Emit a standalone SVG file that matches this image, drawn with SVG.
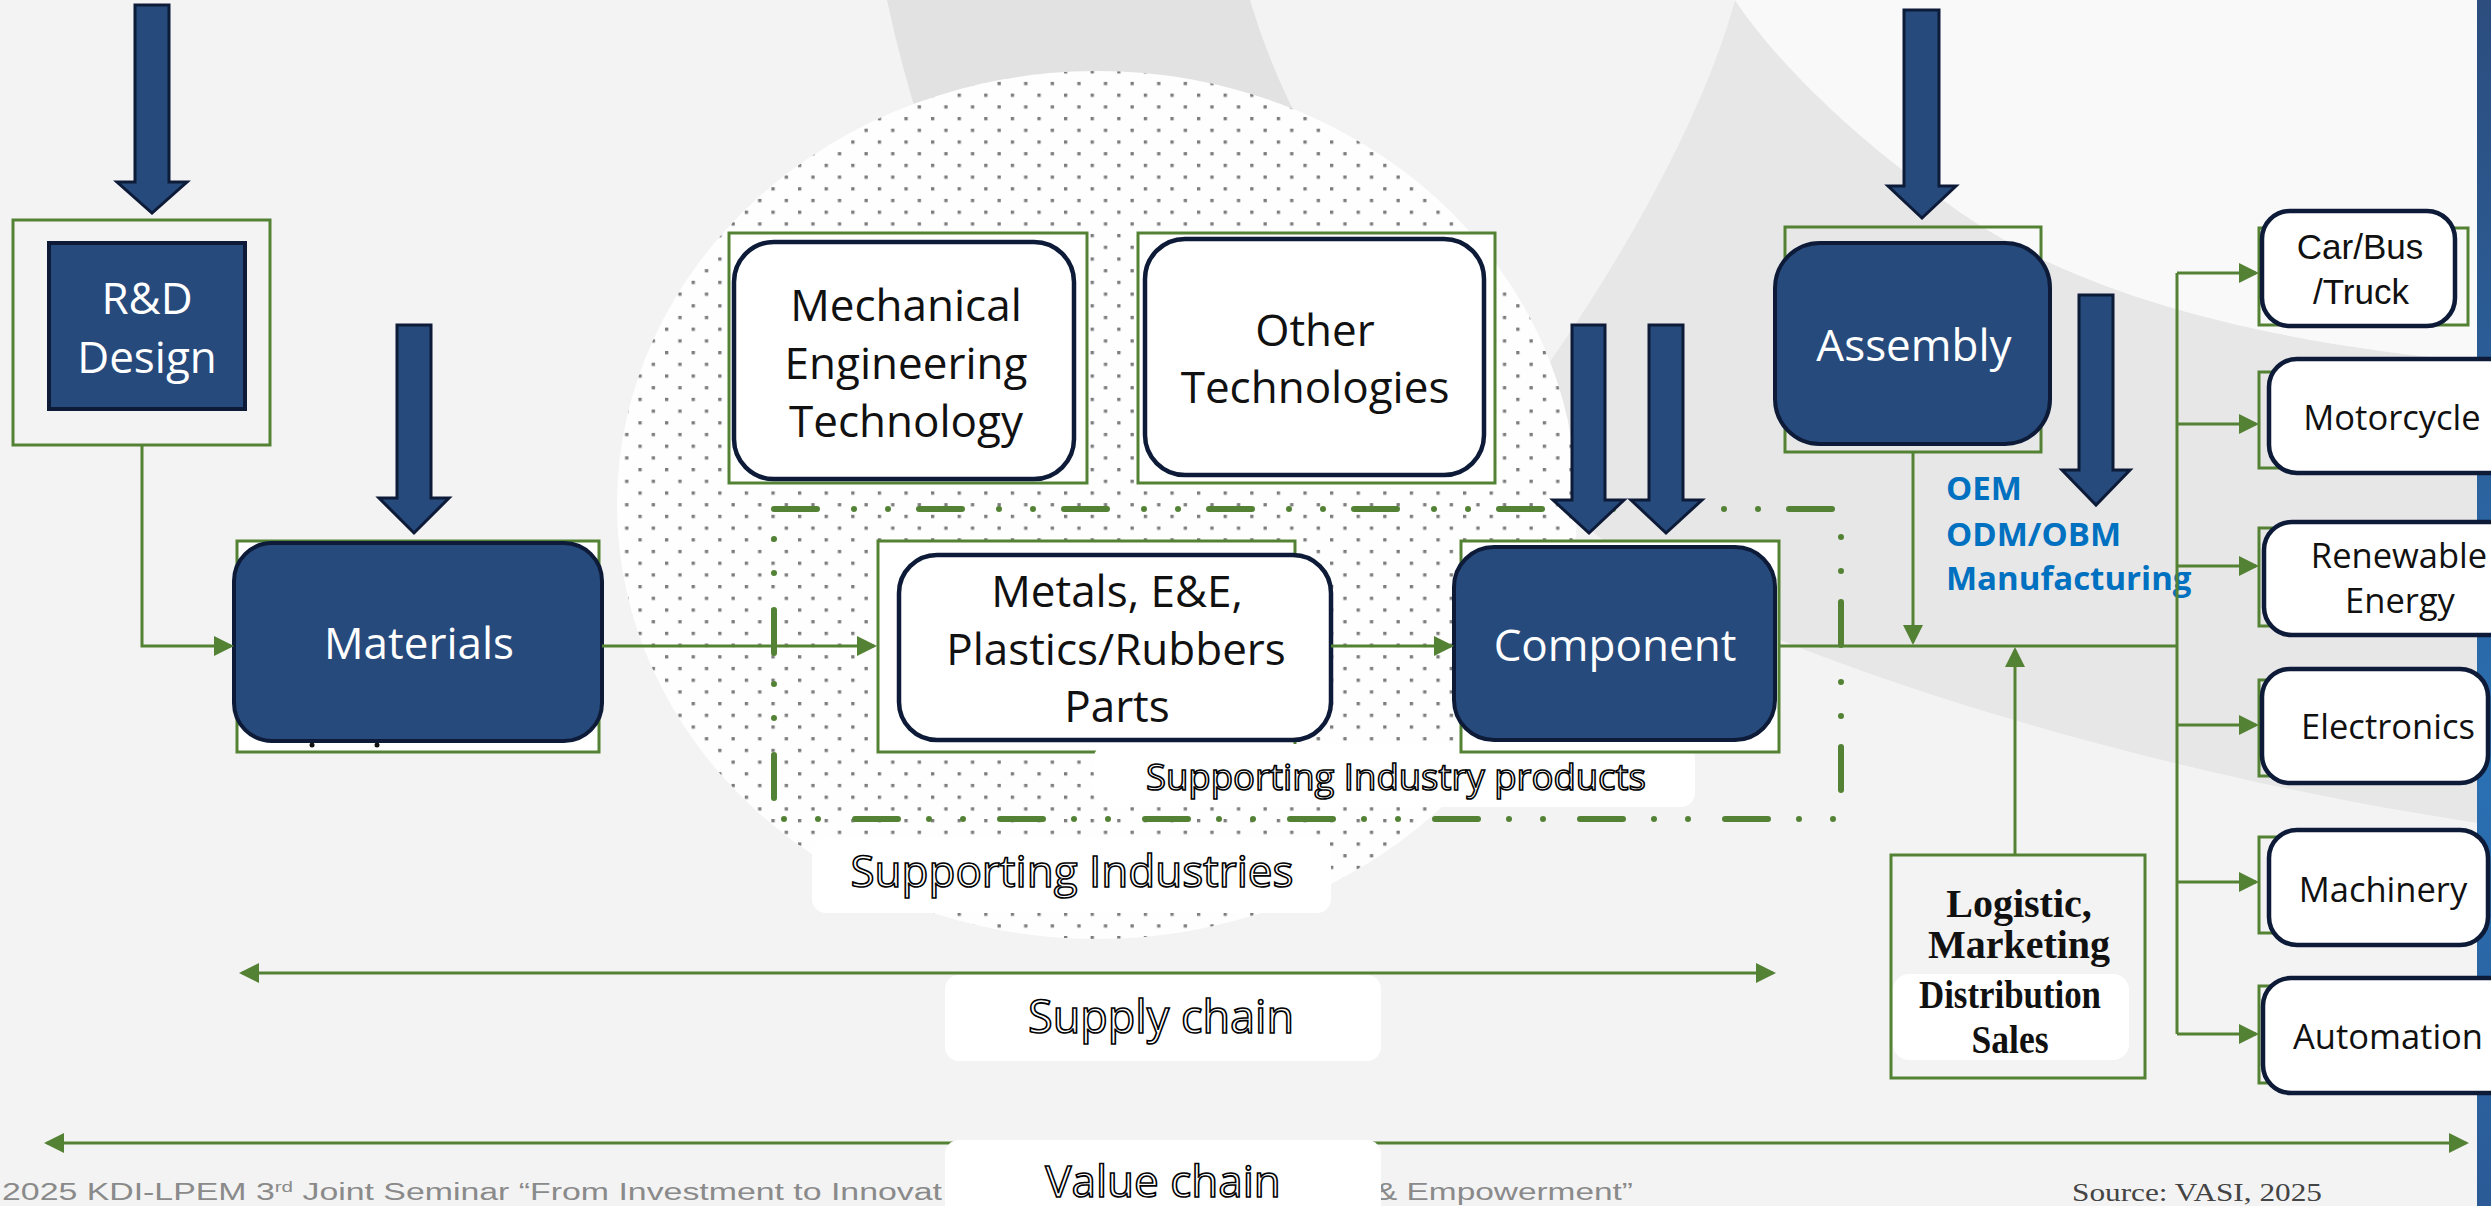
<svg xmlns="http://www.w3.org/2000/svg" width="2491" height="1206" viewBox="0 0 2491 1206">
<defs>
<style>
.nb{fill:#264a7c;stroke:#0d1b38;stroke-width:4}
.wb{fill:#fff;stroke:#0d1b38;stroke-width:4.5}
.gf{fill:#fff;stroke:#548235;stroke-width:3}
.gfn{fill:none;stroke:#548235;stroke-width:3}
.ar{fill:#264a7c;stroke:#0d1b38;stroke-width:3}
.ln{fill:none;stroke:#548235;stroke-width:3}
.lb{fill:#fff}
.tn{font-family:'Open Sans','Noto Sans',sans-serif;font-size:44px;fill:#fff;text-anchor:middle}
.tw{font-family:'Open Sans','Noto Sans',sans-serif;font-size:44px;fill:#111;text-anchor:middle}
.tr{font-family:'Open Sans','Noto Sans',sans-serif;font-size:34.5px;fill:#111;text-anchor:middle}
.ta{font-family:'Liberation Sans',Arial,sans-serif;font-size:35px;fill:#111;text-anchor:middle}
.to{font-family:'Open Sans','Noto Sans',sans-serif;fill:#fff;stroke:#000;stroke-width:1.6;text-anchor:middle}
.oem{font-family:'Open Sans','Noto Sans',sans-serif;font-size:33px;font-weight:bold;fill:#0070c0}
.tl{font-family:'Liberation Serif','Times New Roman',serif;font-size:40px;font-weight:bold;fill:#111;text-anchor:middle}
.ft{font-family:'Liberation Sans',Arial,sans-serif;font-size:23px;fill:#8a8a8a}
</style>
<marker id="ah" viewBox="0 0 20 20" refX="17" refY="10" markerWidth="20" markerHeight="20" markerUnits="userSpaceOnUse" orient="auto-start-reverse"><path d="M0,0L20,10L0,20Z" fill="#548235"/></marker>
<pattern id="dots" width="26.6" height="23.4" patternUnits="userSpaceOnUse"><rect width="26.6" height="23.4" fill="#fefefe"/><rect x="0" y="0" width="3.3" height="3.3" fill="#7c7c7c"/><rect x="13.3" y="11.7" width="3.3" height="3.3" fill="#7c7c7c"/></pattern>
<linearGradient id="bar" x1="0" y1="0" x2="0" y2="1"><stop offset="0" stop-color="#2c4d7e"/><stop offset="0.65" stop-color="#2a70b3"/><stop offset="1" stop-color="#2b5a96"/></linearGradient>
</defs>

<g id="background">
<rect width="2491" height="1206" fill="#f3f3f3"/>
<path d="M887,0 L1250,0 C1280,100 1330,190 1400,260 L1000,330 C950,220 910,110 887,0Z" fill="#e2e2e2"/>
<path d="M1735,0 C1775,60 1850,135 1950,205 C2080,300 2280,345 2491,363 L2491,825 C2250,790 1980,720 1780,640 C1650,585 1560,520 1500,430 C1600,300 1700,130 1735,0Z" fill="#e7e7e7"/>
<path d="M1735,0 L2491,0 L2491,363 C2280,345 2080,300 1950,205 C1850,135 1775,60 1735,0Z" fill="#f9f9f9"/>
<rect x="2477" y="0" width="14" height="1206" fill="url(#bar)"/>
<ellipse cx="1097" cy="505" rx="480" ry="434" fill="url(#dots)"/>
</g>

<g id="supporting-industry-group">
<rect x="774" y="509" width="1067" height="310" fill="none" stroke="#548235" stroke-width="6" stroke-linecap="round" stroke-dasharray="43 37 0 34 0 31"/>
</g>

<g id="rd-design">
<rect class="gfn" x="13" y="220" width="257" height="225"/>
<rect class="nb" x="49" y="243" width="196" height="166"/>
<text class="tn" x="147" y="314">R&amp;D</text>
<text class="tn" x="147" y="373">Design</text>
</g>

<g id="materials">
<rect class="gf" x="237" y="541" width="362" height="211"/>
<rect class="nb" x="234" y="543" width="368" height="198" rx="38"/>
<text class="tn" x="419" y="659">Materials</text>
<circle cx="312" cy="745" r="2.5" fill="#111"/>
<circle cx="377" cy="745" r="2.5" fill="#111"/>
</g>

<g id="mechanical-engineering">
<rect class="gf" x="729" y="233" width="358" height="250"/>
<rect class="wb" x="734" y="242" width="340" height="237" rx="40"/>
<text class="tw" x="906" y="321">Mechanical</text>
<text class="tw" x="906" y="379">Engineering</text>
<text class="tw" x="906" y="437">Technology</text>
</g>

<g id="other-technologies">
<rect class="gf" x="1138" y="233" width="357" height="250"/>
<rect class="wb" x="1145" y="239" width="339" height="236" rx="40"/>
<text class="tw" x="1315" y="346">Other</text>
<text class="tw" x="1315" y="403">Technologies</text>
</g>

<g id="metals-parts">
<rect class="gf" x="878" y="541" width="417" height="211"/>
<rect class="wb" x="899" y="555" width="432" height="185" rx="38"/>
<text class="tw" x="1117" y="607">Metals, E&amp;E,</text>
<text class="tw" x="1116" y="665">Plastics/Rubbers</text>
<text class="tw" x="1117" y="722">Parts</text>
</g>

<g id="label-supporting-industry-products">
<rect class="lb" x="1094" y="744" width="601" height="63" rx="14"/>
<text class="to" x="1396" y="790" font-size="36.5">Supporting Industry products</text>
</g>

<g id="component">
<rect class="gf" x="1461" y="541" width="318" height="211"/>
<rect class="nb" x="1454" y="547" width="321" height="193" rx="40"/>
<text class="tn" x="1615" y="661">Component</text>
</g>

<g id="assembly">
<rect class="gfn" x="1785" y="227" width="256" height="225"/>
<rect class="nb" x="1775" y="243" width="275" height="201" rx="45"/>
<text class="tn" x="1914" y="361">Assembly</text>
</g>

<g id="oem-label">
<text class="oem" x="1946" y="500">OEM</text>
<text class="oem" x="1946" y="546">ODM/OBM</text>
<text class="oem" x="1946" y="590">Manufacturing</text>
</g>

<g id="logistic">
<rect class="gfn" x="1891" y="855" width="254" height="223"/>
<text class="tl" x="2019" y="917">Logistic,</text>
<text class="tl" x="2019" y="958">Marketing</text>
<rect class="lb" x="1893" y="974" width="236" height="86" rx="16"/>
<text class="tl" x="2010" y="1008" textLength="182" lengthAdjust="spacingAndGlyphs">Distribution</text>
<text class="tl" x="2010" y="1053" textLength="77" lengthAdjust="spacingAndGlyphs">Sales</text>
</g>

<g id="car-bus-truck">
<rect class="gfn" x="2259" y="228" width="209" height="97"/>
<rect class="wb" x="2262" y="211" width="193" height="115" rx="28"/>
<text class="ta" x="2360" y="259">Car/Bus</text>
<text class="ta" x="2361" y="304">/Truck</text>
</g>

<g id="motorcycle">
<rect class="gfn" x="2259" y="372" width="120" height="96"/>
<rect class="wb" x="2269" y="359" width="260" height="114" rx="28"/>
<text class="tr" x="2392" y="430">Motorcycle</text>
</g>

<g id="renewable-energy">
<rect class="gfn" x="2259" y="528" width="120" height="98"/>
<rect class="wb" x="2264" y="522" width="265" height="113" rx="28"/>
<text class="tr" x="2399" y="568">Renewable</text>
<text class="tr" x="2400" y="613">Energy</text>
</g>

<g id="electronics">
<rect class="gfn" x="2259" y="680" width="120" height="96"/>
<rect class="wb" x="2262" y="669" width="226" height="114" rx="28"/>
<text class="tr" x="2388" y="739">Electronics</text>
</g>

<g id="machinery">
<rect class="gfn" x="2259" y="837" width="120" height="96"/>
<rect class="wb" x="2269" y="830" width="219" height="115" rx="28"/>
<text class="tr" x="2383" y="902">Machinery</text>
</g>

<g id="automation">
<rect class="gfn" x="2259" y="986" width="120" height="97"/>
<rect class="wb" x="2263" y="978" width="266" height="115" rx="28"/>
<text class="tr" x="2388" y="1049">Automation</text>
</g>

<g id="connectors">
<path class="ln" d="M142,445 V646 H231" marker-end="url(#ah)"/>
<path class="ln" d="M602,646 H874" marker-end="url(#ah)"/>
<path class="ln" d="M1331,646 H1451" marker-end="url(#ah)"/>
<path class="ln" d="M1779,646 H2177"/>
<path class="ln" d="M1913,452 V642" marker-end="url(#ah)"/>
<path class="ln" d="M2015,855 V650" marker-end="url(#ah)"/>
<path class="ln" d="M2177,273 V1034"/>
<path class="ln" d="M2177,273 H2256" marker-end="url(#ah)"/>
<path class="ln" d="M2177,424 H2256" marker-end="url(#ah)"/>
<path class="ln" d="M2177,566 H2256" marker-end="url(#ah)"/>
<path class="ln" d="M2177,725 H2256" marker-end="url(#ah)"/>
<path class="ln" d="M2177,882 H2256" marker-end="url(#ah)"/>
<path class="ln" d="M2177,1034 H2256" marker-end="url(#ah)"/>
<path class="ln" d="M242,973 H1773" stroke-width="3.5" marker-start="url(#ah)" marker-end="url(#ah)"/>
<path class="ln" d="M47,1143 H2466" stroke-width="3.5" marker-start="url(#ah)" marker-end="url(#ah)"/>
</g>

<g id="input-arrows">
<polygon class="ar" points="135,5 169,5 169,182 187,182 152,213 117,182 135,182"/>
<polygon class="ar" points="397,325 431,325 431,498 449,498 414,533 379,498 397,498"/>
<polygon class="ar" points="1572,325 1605,325 1605,500 1624,500 1589,533 1553,500 1572,500"/>
<polygon class="ar" points="1649,325 1683,325 1683,500 1702,500 1666,533 1631,500 1649,500"/>
<polygon class="ar" points="1904,10 1939,10 1939,186 1956,186 1922,218 1888,186 1904,186"/>
<polygon class="ar" points="2079,295 2113,295 2113,470 2130,470 2096,505 2062,470 2079,470"/>
</g>

<g id="label-supporting-industries">
<rect class="lb" x="812" y="838" width="519" height="75" rx="14"/>
<text class="to" x="1072" y="887" font-size="44">Supporting Industries</text>
</g>

<g id="label-supply-chain">
<rect class="lb" x="945" y="975" width="436" height="86" rx="14"/>
<text class="to" x="1161" y="1033" font-size="45">Supply chain</text>
</g>

<g id="footer">
<text class="ft" x="2" y="1200" textLength="940" lengthAdjust="spacingAndGlyphs">2025 KDI-LPEM 3<tspan font-size="14" dy="-8">rd</tspan><tspan dy="8"> Joint Seminar “From Investment to Innovat</tspan></text>
<text class="ft" x="1375" y="1200" textLength="258" lengthAdjust="spacingAndGlyphs">&amp; Empowerment”</text>
<text x="2072" y="1201" font-family="'Liberation Serif','Times New Roman',serif" font-size="25" fill="#444" textLength="250" lengthAdjust="spacingAndGlyphs">Source: VASI, 2025</text>
</g>

<g id="label-value-chain">
<rect class="lb" x="945" y="1140" width="436" height="80" rx="14"/>
<text class="to" x="1163" y="1197" font-size="44">Value chain</text>
</g>
</svg>
